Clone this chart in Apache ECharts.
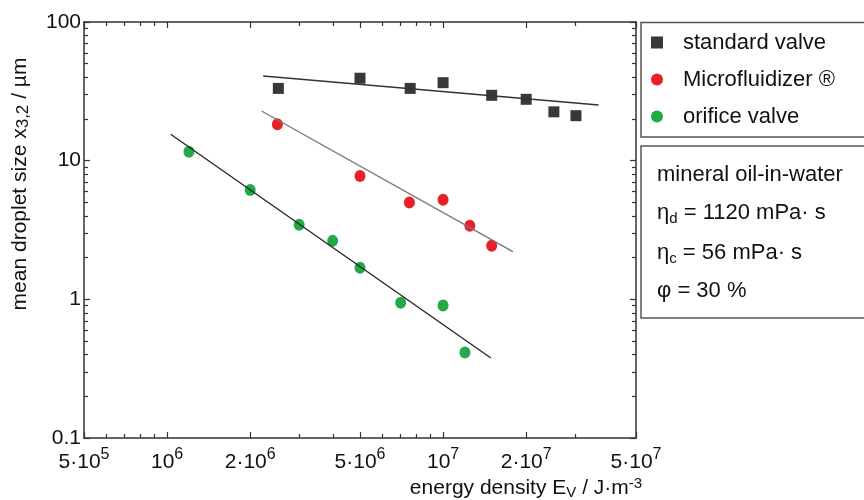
<!DOCTYPE html>
<html>
<head>
<meta charset="utf-8">
<script src="https://cdn.jsdelivr.net/npm/echarts@6/dist/echarts.min.js"></script>
<style>
  html, body { margin: 0; padding: 0; background: #fff; }
  #chart { width: 864px; height: 500px; }
</style>
</head>
<body>
<div id="chart"></div>
<script>
// energy density (J/m3) and mean droplet size x3,2 (µm)
const standardX = [2.53e6, 5.0e6, 7.6e6, 1.0e7, 1.5e7, 2.0e7, 2.52e7, 3.03e7]
const standardY = [33.2, 39.3, 33.2, 36.5, 29.6, 27.7, 22.5, 21.1]
const microX = [2.51e6, 5.0e6, 7.55e6, 1.0e7, 1.25e7, 1.5e7]
const microY = [18.3, 7.74, 5.0, 5.22, 3.39, 2.43]
const orificeX = [1.2e6, 2.0e6, 3.01e6, 3.98e6, 5.0e6, 7.02e6, 1.0e7, 1.2e7]
const orificeY = [11.6, 6.14, 3.45, 2.64, 1.69, 0.944, 0.904, 0.414]

// fitted lines, start and end points
const standardFitX = [2.23e6, 3.66e7]
const standardFitY = [40.8, 25.2]
const microFitX = [2.2e6, 1.79e7]
const microFitY = [22.8, 2.21]
const orificeFitX = [1.03e6, 1.49e7]
const orificeFitY = [15.5, 0.377]

// axis ticks and labels
const xMajor = [5e5, 1e6, 2e6, 5e6, 1e7, 2e7, 5e7]
const xMinor = [6e5, 7e5, 8e5, 9e5, 3e6, 4e6, 6e6, 7e6, 8e6, 9e6, 3e7]
const xLabels = ['5·10{s|5}', '10{s|6}', '2·10{s|6}', '5·10{s|6}', '10{s|7}', '2·10{s|7}', '5·10{s|7}']
const yMajor = [0.1, 1, 10, 100]
const yMinor = [0.2, 0.3, 0.4, 0.5, 0.6, 0.7, 0.8, 0.9, 2, 3, 4, 5, 6, 7, 8, 9, 20, 30, 40, 50, 60, 70, 80, 90]
const yLabels = ['0.1', '1', '10', '100']

const FONT = 'Liberation Sans, Arial, Helvetica, sans-serif'
const AXIS_COLOR = '#333'

function pairs(xs, ys) {
  return xs.map((x, i) => [x, ys[i]])
}

function findIndex(list, v) {
  for (let i = 0; i < list.length; i++) {
    if (Math.abs(Math.log10(v) - Math.log10(list[i])) < 1e-6) return i
  }
  return -1
}

// one axis per side for the long ticks, one for the short ones
function xAxis(position, ticks, len, withLine, withLabel) {
  return {
    type: 'log',
    logBase: 10,
    min: 5e5,
    max: 5e7,
    position: position,
    axisLine: { show: withLine, lineStyle: { color: AXIS_COLOR, width: 1.5 } },
    axisTick: { show: true, inside: true, length: len, customValues: ticks, lineStyle: { color: AXIS_COLOR, width: 1.2 } },
    axisLabel: withLabel ? {
      show: true,
      customValues: xMajor,
      margin: 9,
      color: '#111',
      fontFamily: FONT,
      fontSize: 21,
      lineHeight: 30,
      formatter: v => xLabels[findIndex(xMajor, v)] || '',
      rich: {
        s: { fontSize: 16, lineHeight: 14, fontFamily: FONT, color: '#111', verticalAlign: 'top' }
      }
    } : { show: false },
    splitLine: { show: false },
    minorTick: { show: false }
  }
}

function yAxis(position, ticks, len, withLine, withLabel) {
  return {
    type: 'log',
    logBase: 10,
    min: 0.1,
    max: 100,
    position: position,
    axisLine: { show: withLine, lineStyle: { color: AXIS_COLOR, width: 1.5 } },
    axisTick: { show: true, inside: true, length: len, customValues: ticks, lineStyle: { color: AXIS_COLOR, width: 1.2 } },
    axisLabel: withLabel ? {
      show: true,
      customValues: yMajor,
      margin: 3,
      color: '#111',
      fontFamily: FONT,
      fontSize: 21,
      formatter: v => yLabels[findIndex(yMajor, v)] || ''
    } : { show: false },
    splitLine: { show: false },
    minorTick: { show: false }
  }
}

const chart = echarts.init(document.getElementById('chart'))

const boxText = { fontSize: 22, fontFamily: FONT, fill: '#111', lineHeight: 26 }
const boxSub = { fontSize: 15, fontFamily: FONT, fill: '#111', verticalAlign: 'bottom' }

chart.setOption({
  animation: false,
  grid: { left: 84, right: 228, top: 22, bottom: 62 },
  xAxis: [
    xAxis('bottom', xMajor, 6, true, true),
    xAxis('bottom', xMinor, 4, false, false),
    xAxis('top', xMajor, 6, true, false),
    xAxis('top', xMinor, 4, false, false)
  ],
  yAxis: [
    yAxis('left', yMajor, 6, true, true),
    yAxis('left', yMinor, 4, false, false),
    yAxis('right', yMajor, 6, true, false),
    yAxis('right', yMinor, 4, false, false)
  ],
  legend: {
    data: ['standard valve', 'Microfluidizer ®', 'orifice valve'],
    orient: 'vertical',
    left: 646,
    top: 25,
    itemWidth: 12,
    itemHeight: 12,
    itemGap: 12,
    textStyle: { fontFamily: FONT, fontSize: 22, color: '#111', lineHeight: 25, padding: [0, 0, 0, 15] }
  },
  graphic: [
    // legend frame and info frame run off the right edge
    { type: 'rect', shape: { x: 641, y: 22.5, width: 260, height: 114.5 }, style: { fill: 'none', stroke: '#555', lineWidth: 1.5 } },
    { type: 'rect', shape: { x: 641, y: 146, width: 260, height: 172 }, style: { fill: 'none', stroke: '#555', lineWidth: 1.5 } },
    { type: 'text', x: 657, y: 175, style: { text: 'mineral oil-in-water', font: '22px ' + FONT, fill: '#111', verticalAlign: 'middle' } },
    {
      type: 'text', x: 657, y: 213,
      style: { text: '{a|η}{b|d}{a| = 1120 mPa· s}', verticalAlign: 'middle', rich: { a: boxText, b: boxSub } }
    },
    {
      type: 'text', x: 657, y: 253,
      style: { text: '{a|η}{b|c}{a| = 56 mPa· s}', verticalAlign: 'middle', rich: { a: boxText, b: boxSub } }
    },
    { type: 'text', x: 657, y: 291, style: { text: 'φ = 30 %', font: '22px ' + FONT, fill: '#111', verticalAlign: 'middle' } },
    // axis titles
    {
      type: 'text', x: 20, y: 184, rotation: Math.PI / 2,
      style: {
        text: '{a|mean droplet size x}{b|3,2}{a| / µm}', align: 'center', verticalAlign: 'middle',
        rich: {
          a: { fontSize: 21, fontFamily: FONT, fill: '#111', lineHeight: 24 },
          b: { fontSize: 17, fontFamily: FONT, fill: '#111', verticalAlign: 'bottom' }
        }
      }
    },
    {
      type: 'text', x: 526, y: 488,
      style: {
        text: '{a|energy density E}{b|V}{a| / J·m}{c|-3}', align: 'center', verticalAlign: 'middle',
        rich: {
          a: { fontSize: 21, fontFamily: FONT, fill: '#111', lineHeight: 24 },
          b: { fontSize: 15, fontFamily: FONT, fill: '#111', verticalAlign: 'bottom' },
          c: { fontSize: 15, fontFamily: FONT, fill: '#111', verticalAlign: 'top' }
        }
      }
    }
  ],
  series: [
    {
      name: 'standard valve fit', type: 'line', symbol: 'none', silent: true,
      lineStyle: { color: '#333', width: 1.3 }, data: pairs(standardFitX, standardFitY)
    },
    {
      name: 'Microfluidizer fit', type: 'line', symbol: 'none', silent: true,
      lineStyle: { color: '#777', width: 1.3 }, data: pairs(microFitX, microFitY)
    },
    {
      name: 'orifice valve fit', type: 'line', symbol: 'none', silent: true,
      lineStyle: { color: '#222', width: 1.3 }, data: pairs(orificeFitX, orificeFitY)
    },
    {
      name: 'standard valve', type: 'scatter', symbol: 'rect', symbolSize: 11,
      itemStyle: { color: '#383838', opacity: 1 }, data: pairs(standardX, standardY)
    },
    {
      name: 'Microfluidizer ®', type: 'scatter', symbol: 'circle', symbolSize: [11, 12],
      itemStyle: { color: '#e8202a', opacity: 1 }, data: pairs(microX, microY)
    },
    {
      name: 'orifice valve', type: 'scatter', symbol: 'circle', symbolSize: [11, 12],
      itemStyle: { color: '#22aa48', opacity: 1 }, data: pairs(orificeX, orificeY)
    }
  ]
})
</script>
</body>
</html>
